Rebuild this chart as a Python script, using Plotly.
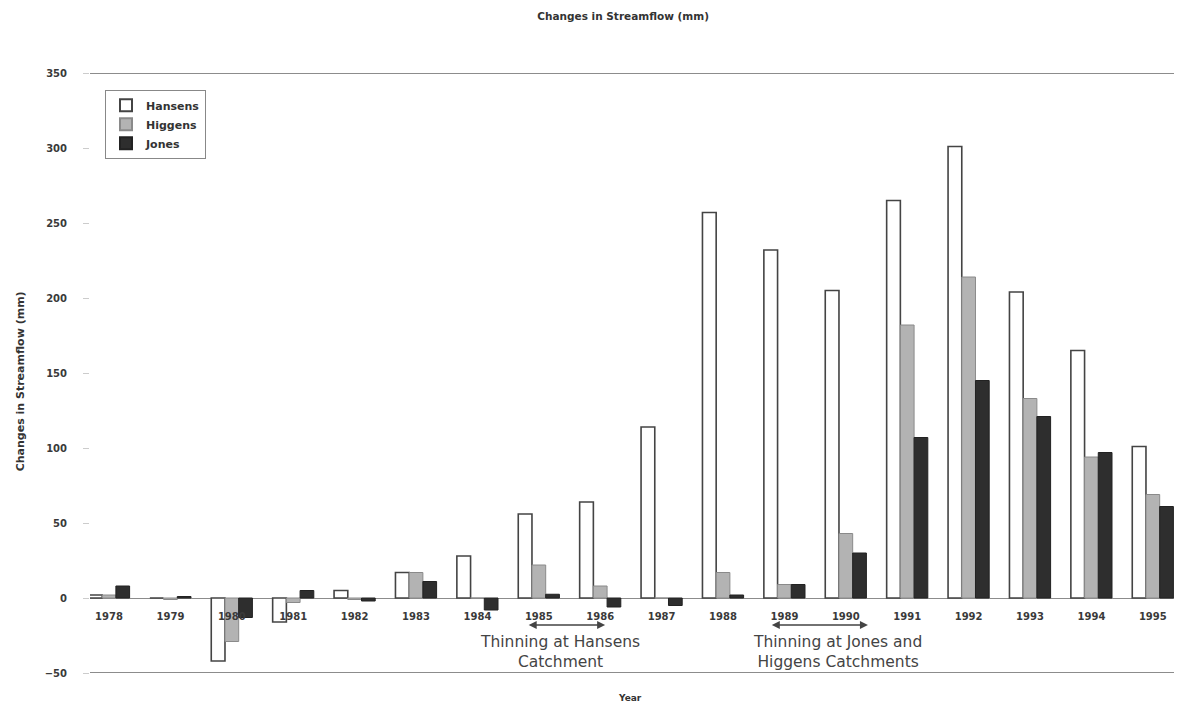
import plotly.graph_objects as go

years = ["1978", "1979", "1980", "1981", "1982", "1983", "1984", "1985", "1986",
         "1987", "1988", "1989", "1990", "1991", "1992", "1993", "1994", "1995"]
hansens = [2, 0, -42, -16, 5, 17, 28, 56, 64, 114, 257, 232, 205, 265, 301, 204, 165, 101]
higgens = [2, -1, -29, -3, -1, 17, 0, 22, 8, 0, 17, 9, 43, 182, 214, 133, 94, 69]
jones = [8, 1, -13, 5, -2, 11, -8, 2.5, -6, -5, 2, 9, 30, 107, 145, 121, 97, 61]
y_ticks = [-50, 0, 50, 100, 150, 200, 250, 300, 350]

xs = list(range(len(years)))
sans = "DejaVu Sans, Verdana, sans-serif"

fig = go.Figure()
fig.add_trace(go.Bar(name="Hansens", x=xs, y=hansens,
                     marker=dict(color="white", line=dict(color="#444444", width=1.6))))
fig.add_trace(go.Bar(name="Higgens", x=xs, y=higgens,
                     marker=dict(color="#b3b3b3", line=dict(color="#8a8a8a", width=1))))
fig.add_trace(go.Bar(name="Jones", x=xs, y=jones,
                     marker=dict(color="#2e2e2e", line=dict(color="#222222", width=1))))

# page has an 8px body margin, so the figure is sized/offset to compensate
fig.update_layout(
    width=1174, height=699,
    margin=dict(l=82, r=4, t=65, b=34, autoexpand=False),
    paper_bgcolor="white", plot_bgcolor="white",
    barmode="group", bargap=0.33, bargroupgap=0,
    font=dict(family=sans, color="#333333"),
    title=dict(text="<b>Changes in Streamflow (mm)</b>", x=0.524, xanchor="center",
               y=0.9886, yanchor="middle", font=dict(size=10.5, color="#333333", family=sans)),
    showlegend=True,
    legend=dict(x=0.0138, y=0.972, xanchor="left", yanchor="top",
                bgcolor="white", bordercolor="#888888", borderwidth=1,
                font=dict(size=11, color="#333333", family=sans, weight="bold"),
                itemwidth=30, tracegroupgap=0, itemsizing="constant"),
    xaxis=dict(tickmode="array", tickvals=xs, ticktext=years,
               range=[-0.31, 17.41], anchor="free", position=0.125,
               showline=False, showgrid=False, zeroline=False, automargin=False,
               ticks="", ticklabelstandoff=11,
               tickfont=dict(size=10, color="#3a3a3a", family=sans, weight="bold")),
    yaxis=dict(range=[-50, 350], tickvals=y_ticks, showgrid=False, automargin=False,
               zeroline=True, zerolinecolor="#8c8c8c", zerolinewidth=1,
               ticks="outside", ticklen=6, tickcolor="#cccccc", ticklabelstandoff=14,
               tickfont=dict(size=10, color="#3a3a3a", family=sans, weight="bold")),
)

# frame lines at top (350) and bottom (-50)
for yy in [y_ticks[0], y_ticks[-1]]:
    fig.add_shape(type="line", xref="paper", yref="y", x0=0, x1=1, y0=yy, y1=yy,
                  line=dict(color="#666666", width=1.5))

# Axis titles
fig.add_annotation(text="<b>Changes in Streamflow (mm)</b>", xref="paper", yref="paper",
                   x=-0.0717, y=0.487, textangle=-90, showarrow=False,
                   font=dict(size=11, color="#333333", family=sans))
fig.add_annotation(text="<b>Year</b>", xref="paper", yref="paper", x=0.496, y=-0.0417,
                   yanchor="middle", showarrow=False,
                   font=dict(size=9, color="#333333", family=sans))

# Thinning annotations
fig.add_annotation(text="Thinning at Hansens<br>Catchment", x=7.35, y=-36, xref="x", yref="y",
                   showarrow=False, font=dict(size=15.5, color="#444444", family=sans))
fig.add_annotation(text="Thinning at Jones and<br>Higgens Catchments", x=11.87, y=-36,
                   xref="x", yref="y", showarrow=False,
                   font=dict(size=15.5, color="#444444", family=sans))
fig.add_annotation(x=8.08, y=-18, ax=6.81, ay=-18, xref="x", yref="y", axref="x", ayref="y",
                   text="", showarrow=True, arrowhead=2, startarrowhead=2, arrowside="end+start",
                   arrowwidth=1.6, arrowcolor="#444444")
fig.add_annotation(x=12.36, y=-18, ax=10.77, ay=-18, xref="x", yref="y", axref="x", ayref="y",
                   text="", showarrow=True, arrowhead=2, startarrowhead=2, arrowside="end+start",
                   arrowwidth=1.6, arrowcolor="#444444")

fig.write_html("out.html")
